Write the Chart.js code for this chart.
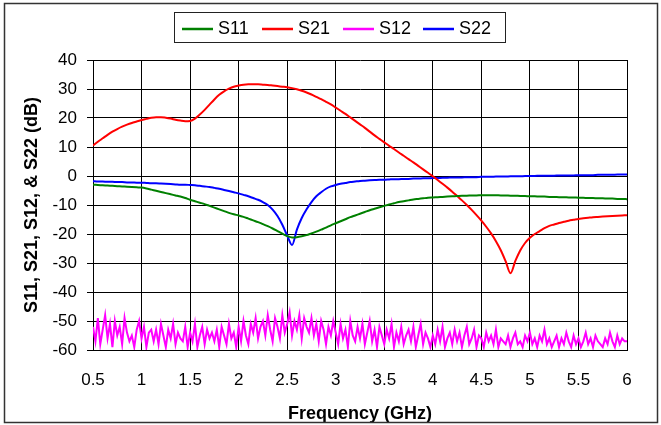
<!DOCTYPE html>
<html>
<head>
<meta charset="utf-8">
<script src="https://cdn.jsdelivr.net/npm/chart.js@4.4.1/dist/chart.umd.min.js"></script>
<style>
  html, body { margin: 0; padding: 0; background: #fff; }
  #wrap { position: relative; width: 661px; height: 425px; }
</style>
</head>
<body>
<div id="wrap"><canvas id="sparamChart" width="661" height="425"></canvas></div>
<script>
// sweep: 0.5 .. 6 GHz, 0.05 GHz step for S11/S21/S22, 0.025 GHz step for S12
const freqStart = 0.5;
const freqStep = 0.05;
const fineStep = 0.025;

const seriesNames = ['S11', 'S21', 'S12', 'S22'];
const seriesColors = ['#008000', '#ff0000', '#ff00ff', '#0000ff'];
const xTicks = [0.5, 1, 1.5, 2, 2.5, 3, 3.5, 4, 4.5, 5, 5.5, 6];
const yTicks = [-60, -50, -40, -30, -20, -10, 0, 10, 20, 30, 40];

const s11 = [
  -3.0, -3.1, -3.2, -3.3, -3.4, -3.5, -3.6, -3.7, -3.8, -3.9,
  -4.0, -4.3, -4.7, -5.1, -5.5, -5.9, -6.3, -6.7, -7.1, -7.6,
  -8.2, -8.7, -9.2, -9.7, -10.3, -10.9, -11.5, -12.1, -12.7, -13.2,
  -13.6, -14.1, -14.7, -15.3, -15.9, -16.6, -17.3, -18.1, -19.0, -19.9,
  -20.7, -21.2, -21.1, -20.8, -20.4, -19.8, -19.2, -18.5, -17.8, -17.0,
  -16.3, -15.6, -14.9, -14.2, -13.6, -13.0, -12.4, -11.8, -11.3, -10.8,
  -10.3, -9.8, -9.4, -9.0, -8.7, -8.4, -8.1, -7.9, -7.7, -7.5,
  -7.4, -7.3, -7.2, -7.1, -7.0, -6.9, -6.8, -6.8, -6.7, -6.7,
  -6.6, -6.6, -6.6, -6.6, -6.7, -6.7, -6.8, -6.8, -6.9, -6.9,
  -7.0, -7.0, -7.1, -7.1, -7.2, -7.2, -7.3, -7.3, -7.4, -7.4,
  -7.5, -7.5, -7.6, -7.6, -7.7, -7.7, -7.8, -7.8, -7.9, -7.9,
  -8.0
];

const s21 = [
  10.5, 11.8, 13.0, 14.2, 15.3, 16.2, 17.0, 17.7, 18.3, 18.8,
  19.3, 19.7, 20.1, 20.3, 20.3, 20.1, 19.8, 19.4, 19.1, 18.9,
  19.0, 19.8, 21.2, 22.8, 24.6, 26.4, 28.0, 29.2, 30.1, 30.8,
  31.2, 31.5, 31.6, 31.6, 31.6, 31.5, 31.4, 31.2, 31.0, 30.8,
  30.6, 30.3, 29.9, 29.4, 28.8, 28.1, 27.3, 26.5, 25.6, 24.7,
  23.6, 22.5, 21.4, 20.2, 19.0, 17.8, 16.6, 15.3, 14.0, 12.8,
  11.6, 10.4, 9.3, 8.1, 7.0, 5.8, 4.7, 3.5, 2.3, 1.1,
  -0.1, -1.4, -2.7, -4.0, -5.4, -6.9, -8.4, -10.0, -11.7, -13.5,
  -15.4, -17.5, -19.8, -22.5, -25.6, -29.4, -33.5, -29.3, -25.7, -23.1,
  -21.3, -20.0, -19.0, -18.0, -17.2, -16.7, -16.2, -15.8, -15.4, -15.1,
  -14.8, -14.6, -14.4, -14.2, -14.1, -14.0, -13.9, -13.8, -13.7, -13.6,
  -13.5
];

const s22 = [
  -1.8, -1.9, -1.9, -2.0, -2.0, -2.1, -2.1, -2.2, -2.2, -2.3,
  -2.3, -2.4, -2.5, -2.5, -2.6, -2.7, -2.8, -2.9, -3.0, -3.0,
  -3.1, -3.2, -3.4, -3.6, -3.8, -4.1, -4.4, -4.8, -5.2, -5.6,
  -6.0, -6.5, -7.0, -7.6, -8.2, -9.0, -10.0, -11.6, -13.8, -16.8,
  -20.5, -23.8, -18.5, -14.5, -11.5, -9.0, -7.0, -5.6, -4.4, -3.6,
  -3.1, -2.7, -2.4, -2.1, -1.9, -1.7, -1.6, -1.5, -1.4, -1.3,
  -1.3, -1.2, -1.1, -1.1, -1.0, -1.0, -0.9, -0.9, -0.8, -0.8,
  -0.7, -0.7, -0.6, -0.6, -0.5, -0.5, -0.5, -0.4, -0.4, -0.4,
  -0.3, -0.3, -0.3, -0.2, -0.2, -0.2, -0.1, -0.1, -0.1, 0.0,
  0.0, 0.0, 0.1, 0.1, 0.1, 0.1, 0.2, 0.2, 0.2, 0.2,
  0.3, 0.3, 0.3, 0.3, 0.4, 0.4, 0.4, 0.4, 0.5, 0.5,
  0.5
];

// S12 is the noisy isolation trace near the floor
const s12 = [
  -52, -57, -49, -58, -53, -48, -56, -51, -59, -50,
  -55, -52, -58, -49, -54, -57, -55, -59, -53, -50,
  -56, -52, -59, -54, -53, -57, -53, -58, -51, -55,
  -59, -53, -56, -51, -58, -54, -56, -57, -52, -59,
  -54, -57, -51, -59, -55, -52, -58, -53, -56, -54,
  -57, -53, -59, -52, -55, -58, -51, -56, -54, -59,
  -52, -57, -50, -55, -58, -51, -54, -49, -56, -52,
  -50, -55, -48, -53, -57, -49, -52, -56, -48, -54,
  -51, -47, -55, -50, -53, -48, -56, -49, -52, -54,
  -49, -55, -51, -57, -50, -53, -58, -52, -55, -50,
  -54, -58, -51, -56, -53, -59, -50, -55, -57, -52,
  -56, -51, -58, -54, -50, -57, -53, -59, -52, -55,
  -58, -53, -56, -51, -59, -54, -57, -52, -58, -55,
  -53, -57, -52, -59, -55, -51, -58, -54, -56, -59,
  -55, -58, -53, -57, -52, -59, -56, -54, -58, -53,
  -57, -54, -59, -55, -52, -58, -56, -53, -59, -55,
  -56, -59, -54, -57, -55, -58, -53, -59, -56, -57,
  -58, -55, -59, -56, -54, -58, -57, -59, -55, -57,
  -54, -58, -56, -59, -55, -57, -53, -58, -56, -59,
  -57, -55, -59, -56, -58, -54, -57, -59, -55, -58,
  -56, -59, -57, -54, -58, -56, -59, -55, -57, -58,
  -59, -56, -58, -54, -57, -59, -55, -58, -56, -57,
  -57
];

const toPoints = (vals, step) =>
  vals.map((v, i) => ({ x: +(freqStart + i * step).toFixed(3), y: v }));

const FONT = "'Liberation Sans', Arial, sans-serif";

// legend in a box + outer frame, drawn by hand
const framePlugin = {
  id: 'frame',
  afterDraw(chart) {
    const ctx = chart.ctx;
    ctx.save();
    ctx.strokeStyle = '#333';
    ctx.lineWidth = 1.5;
    ctx.strokeRect(4.5, 3.5, 653, 419);

    // legend box
    ctx.lineWidth = 1;
    ctx.strokeStyle = '#222';
    ctx.strokeRect(174.5, 12.5, 331, 30);
    const lineX = [182, 262, 343, 423];
    ctx.font = '18px ' + FONT;
    ctx.textBaseline = 'middle';
    ctx.fillStyle = '#000';
    chart.data.datasets.forEach((ds, i) => {
      ctx.strokeStyle = ds.borderColor;
      ctx.lineWidth = 2.5;
      ctx.beginPath();
      ctx.moveTo(lineX[i], 29);
      ctx.lineTo(lineX[i] + 31, 29);
      ctx.stroke();
      ctx.fillText(ds.label, lineX[i] + 36, 29);
    });
    ctx.restore();
  }
};

const ctx = document.getElementById('sparamChart').getContext('2d');
new Chart(ctx, {
  type: 'line',
  data: {
    datasets: [
      { label: seriesNames[0], data: toPoints(s11, freqStep), borderColor: seriesColors[0] },
      { label: seriesNames[1], data: toPoints(s21, freqStep), borderColor: seriesColors[1] },
      { label: seriesNames[2], data: toPoints(s12, fineStep), borderColor: seriesColors[2], tension: 0, cubicInterpolationMode: 'default' },
      { label: seriesNames[3], data: toPoints(s22, freqStep), borderColor: seriesColors[3] }
    ]
  },
  options: {
    responsive: false,
    animation: false,
    devicePixelRatio: 1,
    layout: { padding: { top: 60, right: 34, bottom: 0, left: 0 } },
    elements: {
      point: { radius: 0 },
      line: { borderWidth: 2, cubicInterpolationMode: 'monotone', fill: false }
    },
    plugins: {
      legend: { display: false },
      tooltip: { enabled: false }
    },
    scales: {
      x: {
        type: 'linear',
        min: 0.5,
        max: 6,
        afterFit: (s) => { s.height = 75; },
        afterBuildTicks: (s) => { s.ticks = xTicks.map(v => ({ value: v })); },
        ticks: {
          font: { family: FONT, size: 17 },
          color: '#000',
          padding: 20,
          maxRotation: 0,
          callback: (v) => String(v)
        },
        grid: { color: '#000', lineWidth: 1, drawTicks: false },
        border: { color: '#000', width: 1 },
        title: {
          display: true,
          text: 'Frequency (GHz)',
          color: '#000',
          font: { family: FONT, size: 18, weight: 'bold' },
          padding: { top: 6, bottom: 0 }
        }
      },
      y: {
        min: -60,
        max: 40,
        afterFit: (s) => { s.width = 93; },
        afterBuildTicks: (s) => { s.ticks = yTicks.map(v => ({ value: v })); },
        ticks: {
          font: { family: FONT, size: 17 },
          color: '#000',
          padding: 10
        },
        grid: { color: '#000', lineWidth: 1, tickLength: 6 },
        border: { color: '#000', width: 1 },
        title: {
          display: true,
          text: 'S11, S21, S12, & S22 (dB)',
          color: '#000',
          font: { family: FONT, size: 18, weight: 'bold' },
          padding: { top: 21, bottom: 0 }
        }
      }
    }
  },
  plugins: [framePlugin]
});
</script>
</body>
</html>
